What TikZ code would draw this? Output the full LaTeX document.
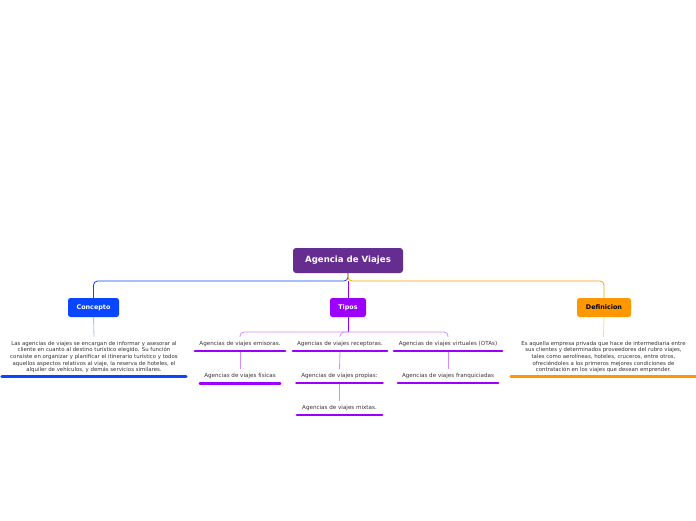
\documentclass[tikz,border=0pt]{standalone}
\usepackage{fontspec}
\setmainfont{DejaVu Sans}
\definecolor{rootc}{HTML}{662D91}
\definecolor{cblue}{HTML}{0A46FF}
\definecolor{tviol}{HTML}{9B00FF}
\definecolor{dorng}{HTML}{FF9800}
\definecolor{lblue}{HTML}{A9BFFF}
\definecolor{lviol}{HTML}{CF8CFF}
\definecolor{lorng}{HTML}{FFD49A}
\definecolor{txt}{HTML}{333333}
\begin{document}
\begin{tikzpicture}[x=1pt,y=-1pt,
  topic/.style={rounded corners=2.5pt, inner sep=0pt, minimum height=19pt, text=white, font=\bfseries\fontsize{6.4}{7}\selectfont},
  leaf/.style={inner xsep=0pt, inner ysep=4.3pt, font=\fontsize{5.6}{6}\selectfont, text=txt},
  para/.style={inner xsep=0pt, inner ysep=3.6pt, align=center, font=\fontsize{5.4}{6.7}\selectfont, text=txt},
  ul/.style={line width=2.4pt, line cap=round, draw=#1},
  conn/.style={line width=0.8pt, draw=#1, rounded corners=4pt}]
\useasboundingbox (0,0) rectangle (696,520);
% main nodes
\node[fill=rootc, rounded corners=3pt, minimum width=110pt, minimum height=25pt, inner sep=0pt, text=white, font=\bfseries\fontsize{8.6}{10}\selectfont] (root) at (348,260.5) {Agencia de Viajes};
\node[topic, fill=cblue, minimum width=51pt] (con) at (93.5,307.5) {Concepto};
\node[topic, fill=tviol, minimum width=36pt] (tip) at (348,307.5) {Tipos};
\node[topic, fill=dorng, text=black, minimum width=54pt] (def) at (604,307.5) {Definicion};
\coordinate (hub) at (348,281);
\draw[conn=cblue] (root.south) -- (hub) -| (con.north);
\draw[conn=dorng] (root.south) -- (hub) -| (def.north);
\draw[conn=tviol] (hub) -- (tip.north);
% concepto
\node[para, minimum width=184pt] (ctext) at (94,357) {Las agencias de viajes se encargan de informar y asesorar al\\cliente en cuanto al destino turístico elegido. Su función\\consiste en organizar y planificar el itinerario turístico y todos\\aquellos aspectos relativos al viaje, la reserva de hoteles, el\\alquiler de vehículos, y demás servicios similares.};
\draw[conn=lblue] (con.south) -- (ctext.north);
\draw[ul=cblue, line width=2.8pt] (ctext.south west) -- (ctext.south east);
% definicion
\node[para, minimum width=185pt] (dtext) at (603.5,357) {Es aquella empresa privada que hace de intermediaria entre\\sus clientes y determinados proveedores del rubro viajes,\\tales como aerolíneas, hoteles, cruceros, entre otros,\\ofreciéndoles a los primeros mejores condiciones de\\contratación en los viajes que desean emprender.};
\draw[conn=lorng] (def.south) -- (dtext.north);
\draw[ul=dorng, line width=2.8pt] (dtext.south west) -- (dtext.south east);
% tipos
\node[leaf, minimum width=90pt] (emi) at (240,344) {Agencias de viajes emisoras.};
\node[leaf, minimum width=94pt] (rec) at (340,344) {Agencias de viajes receptoras.};
\node[leaf, minimum width=108pt] (vir) at (448,344) {Agencias de viajes virtuales (OTAs)};
\node[leaf, minimum width=80pt] (fis) at (240,376) {Agencias de viajes físicas};
\node[leaf, minimum width=86pt] (pro) at (339.5,376) {Agencias de viajes propias:};
\node[leaf, minimum width=100pt] (fra) at (448,376) {Agencias de viajes franquiciadas};
\node[leaf, minimum width=85pt] (mix) at (339.5,408) {Agencias de viajes mixtas.};
\coordinate (thub) at (348,332);
\draw[conn=tviol] (tip.south) -- (thub);
\draw[conn=lviol] (thub) -| (emi.north);
\draw[conn=lviol] (thub) -| (rec.north);
\draw[conn=lviol] (thub) -| (vir.north);
\draw[conn=lviol] (emi.south) -- (fis.north);
\draw[conn=lviol] (rec.south) -- (pro.north);
\draw[conn=lviol] (pro.south) -- (mix.north);
\draw[conn=lviol] (vir.south) -- (fra.north);
\foreach \n in {emi,rec,vir,fis,pro,fra,mix}
  \draw[ul=tviol] (\n.south west) -- (\n.south east);
\end{tikzpicture}
\end{document}
